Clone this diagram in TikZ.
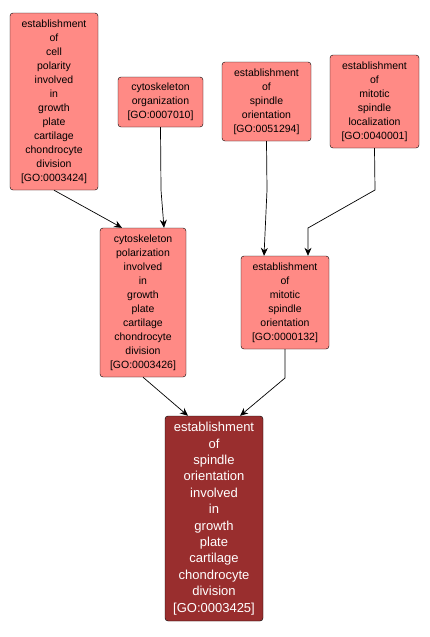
\documentclass[tikz,border=0pt]{standalone}
\usepackage{fontspec}
\setmainfont{Liberation Sans}
\usetikzlibrary{arrows.meta}
\definecolor{termfill}{HTML}{FF8A85}
\definecolor{targetfill}{HTML}{992E2E}
\tikzset{
  term/.style={draw=black, fill=termfill, rounded corners=3pt, align=center,
    inner sep=0pt, font=\fontsize{10.5}{14}\selectfont},
  target/.style={term, fill=targetfill, text=white, font=\fontsize{13}{16.4}\selectfont},
  edge/.style={-{Stealth[length=8pt,width=7pt]}, black, line width=0.7pt}
}
\begin{document}
\begin{tikzpicture}[x=1pt,y=-1pt]
      \useasboundingbox (0,0) rectangle (430,637);
      \draw
        (54,101.5) node[term, minimum width=88, minimum height=177] (cellpol)
          {establishment\\of\\cell\\polarity\\involved\\in\\growth\\plate\\cartilage\\chondrocyte\\division\\{[GO:0003424]}}
        (160.5,102) node[term, minimum width=85, minimum height=50] (cytoorg)
          {cytoskeleton\\organization\\{[GO:0007010]}}
        (266.5,101.5) node[term, minimum width=89, minimum height=79] (spinor)
          {establishment\\of\\spindle\\orientation\\{[GO:0051294]}}
        (374.5,101.5) node[term, minimum width=89, minimum height=93] (mitloc)
          {establishment\\of\\mitotic\\spindle\\localization\\{[GO:0040001]}}
        (143,302.5) node[term, minimum width=86, minimum height=149] (cytopol)
          {cytoskeleton\\polarization\\involved\\in\\growth\\plate\\cartilage\\chondrocyte\\division\\{[GO:0003426]}}
        (285,302.5) node[term, minimum width=88, minimum height=93] (mitor)
          {establishment\\of\\mitotic\\spindle\\orientation\\{[GO:0000132]}}
        (214,518.5) node[target, minimum width=98, minimum height=205] (spinplate)
          {establishment\\of\\spindle\\orientation\\involved\\in\\growth\\plate\\cartilage\\chondrocyte\\division\\{[GO:0003425]}};
      \begin{scope}[edge]
        \draw (cellpol.south) to ([xshift=-21]cytopol.north);
        \draw (cytoorg.south) -- (161,190) -- ([xshift=21]cytopol.north);
        \draw (spinor.south) -- (267,190) -- ([xshift=-21]mitor.north);
        \draw (mitloc.south) -- (375,190) -- (308,228) -- ([xshift=23]mitor.north);
        \draw (cytopol.south) to ([xshift=-26]spinplate.north);
        \draw (mitor.south) -- (285,378) -- ([xshift=26]spinplate.north);
      \end{scope}
    \end{tikzpicture}
\end{document}
